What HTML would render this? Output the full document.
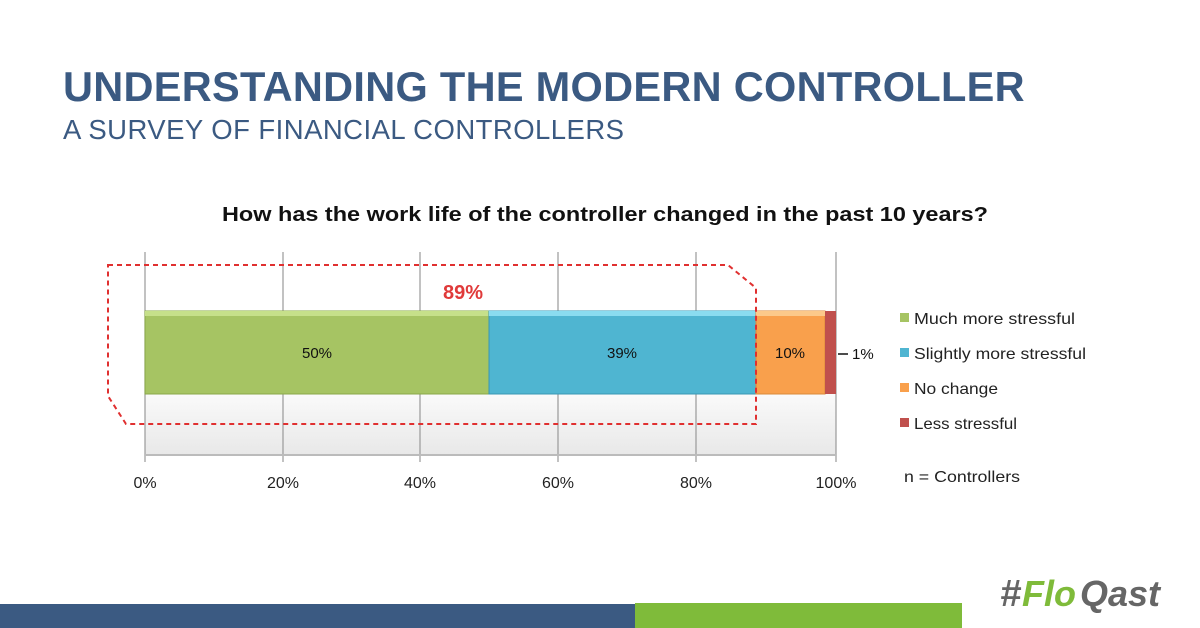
<!DOCTYPE html>
<html><head><style>
body{margin:0;width:1200px;height:628px;background:#fff;position:relative;overflow:hidden;font-family:"Liberation Sans",sans-serif}
.t1{position:absolute;left:63px;top:63px;font-size:41.5px;font-weight:bold;color:#3b5a82;letter-spacing:0.3px}
.t2{position:absolute;left:63px;top:114px;font-size:27.5px;color:#3b5a82;letter-spacing:0.45px}
</style></head><body>
<div class="t1">UNDERSTANDING THE MODERN CONTROLLER</div>
<div class="t2">A SURVEY OF FINANCIAL CONTROLLERS</div>
<svg width="1200" height="628" style="position:absolute;left:0;top:0" font-family="Liberation Sans, DejaVu Sans, sans-serif">
<defs><linearGradient id="fl" x1="0" y1="0" x2="0" y2="1"><stop offset="0" stop-color="#fafafa"/><stop offset="1" stop-color="#e8e8e8"/></linearGradient></defs>
<text x="222" y="221" textLength="766" lengthAdjust="spacingAndGlyphs" font-size="20" font-weight="bold" fill="#111">How has the work life of the controller changed in the past 10 years?</text>
<rect x="145" y="394" width="691" height="61" fill="url(#fl)"/>
<g stroke="#999" stroke-width="1.2">
<line x1="145" y1="252" x2="145" y2="462"/><line x1="283" y1="252" x2="283" y2="462"/><line x1="420" y1="252" x2="420" y2="462"/><line x1="558" y1="252" x2="558" y2="462"/><line x1="696" y1="252" x2="696" y2="462"/><line x1="836" y1="252" x2="836" y2="462"/>
<line x1="145" y1="455" x2="836" y2="455" stroke="#bbb" stroke-width="2"/>
</g>
<rect x="145" y="311" width="344" height="83" fill="#a6c463" stroke="#8aa84a"/>
<rect x="145" y="311" width="344" height="5" fill="#c6e08a"/>
<rect x="489" y="311" width="267" height="83" fill="#4fb5d1" stroke="#3a98b4"/>
<rect x="489" y="311" width="267" height="5" fill="#8adcf0"/>
<rect x="756" y="311" width="69" height="83" fill="#f9a04c" stroke="#d98a3a"/>
<rect x="756" y="311" width="69" height="5" fill="#fcc98a"/>
<rect x="825" y="311" width="11" height="83" fill="#c0504d"/>
<path d="M108,265 L728,265 L756,288 L756,424 L126,424 L108,396 Z" fill="none" stroke="#e03030" stroke-width="2" stroke-dasharray="5,4"/>
<text x="463" y="299" text-anchor="middle" font-size="20" font-weight="bold" fill="#e03a3a">89%</text>
<g font-size="15" fill="#111" text-anchor="middle">
<text x="317" y="358">50%</text><text x="622" y="358">39%</text><text x="790" y="358">10%</text>
</g>
<line x1="838" y1="354" x2="848" y2="354" stroke="#111" stroke-width="1.5"/>
<text x="852" y="359" font-size="15" fill="#111">1%</text>
<g font-size="16" fill="#222" text-anchor="middle">
<text x="145" y="488">0%</text><text x="283" y="488">20%</text><text x="420" y="488">40%</text><text x="558" y="488">60%</text><text x="696" y="488">80%</text><text x="836" y="488">100%</text>
</g>
<g font-size="16" fill="#222">
<rect x="900" y="313" width="9" height="9" fill="#a6c463"/><text x="914" y="324" textLength="161" lengthAdjust="spacingAndGlyphs">Much more stressful</text>
<rect x="900" y="348" width="9" height="9" fill="#4fb5d1"/><text x="914" y="359" textLength="172" lengthAdjust="spacingAndGlyphs">Slightly more stressful</text>
<rect x="900" y="383" width="9" height="9" fill="#f9a04c"/><text x="914" y="394" textLength="84" lengthAdjust="spacingAndGlyphs">No change</text>
<rect x="900" y="418" width="9" height="9" fill="#c0504d"/><text x="914" y="429" textLength="103" lengthAdjust="spacingAndGlyphs">Less stressful</text>
<text x="904" y="482" textLength="116" lengthAdjust="spacingAndGlyphs">n = Controllers</text>
</g>
<rect x="0" y="604" width="635" height="24" fill="#3b5a82"/>
<rect x="635" y="603" width="327" height="25" fill="#7fbb3a"/>
<text x="1000" y="606" font-size="38" font-weight="bold" font-style="italic" fill="#666">#</text>
<text x="1022" y="606" font-size="36" font-weight="bold" font-style="italic" fill="#7fbb3a">Flo</text>
<text x="1080" y="606" font-size="36" font-weight="bold" font-style="italic" fill="#666">Qast</text>
</svg>
</body></html>
